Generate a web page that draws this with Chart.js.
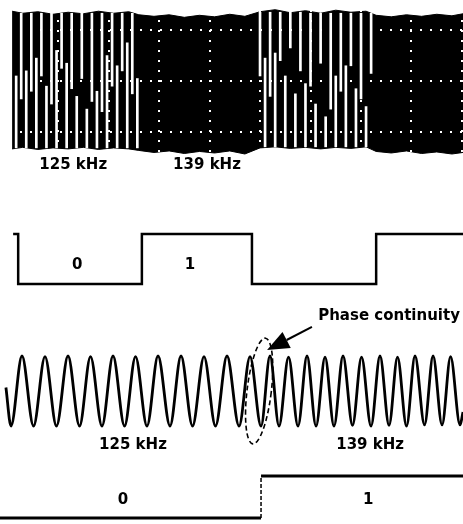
<!DOCTYPE html>
<html>
<head>
<meta charset="utf-8">
<title>FSK signals</title>
<script src="https://cdn.jsdelivr.net/npm/chart.js@4.4.1/dist/chart.umd.min.js"></script>
<style>
  html, body { margin: 0; padding: 0; background: #fff; }
  #wrap { position: relative; width: 463px; height: 524px; overflow: hidden; background: #fff; }
  #wrap canvas { position: absolute; left: 0; }
</style>
</head>
<body>
<div id="wrap">
  <canvas id="scope-graph" width="463" height="180" style="top:0px"></canvas>
  <canvas id="bits-graph" width="463" height="80" style="top:220px"></canvas>
  <canvas id="sine-graph" width="463" height="160" style="top:300px"></canvas>
  <canvas id="step-graph" width="463" height="64" style="top:460px"></canvas>
</div>
<script>
// Scope trace, x and y in screen divisions
var scopeEdgeX  = [0.09, 0.3, 0.6, 0.9, 1.2, 1.5, 1.8, 2.1, 2.4, 2.6, 2.9, 3.2, 3.5, 3.8, 4.1, 4.4, 4.7,
                   5.0, 5.3, 5.6, 5.9, 6.2, 6.5, 6.8, 7.1, 7.3, 7.6, 7.9, 8.2, 8.5, 8.8, 9.02];
var scopeUpper  = [1.37, 1.33, 1.36, 1.31, 1.35, 1.32, 1.37, 1.33, 1.36, 1.30, 1.27, 1.30, 1.25, 1.29, 1.26, 1.31, 1.27,
                   1.36, 1.40, 1.34, 1.38, 1.33, 1.39, 1.35, 1.37, 1.29, 1.26, 1.30, 1.27, 1.31, 1.28, 1.32];
var scopeLower  = [-1.33, -1.30, -1.34, -1.31, -1.33, -1.30, -1.34, -1.31, -1.33, -1.36, -1.40, -1.37, -1.42, -1.38, -1.41, -1.37, -1.43,
                   -1.31, -1.29, -1.32, -1.30, -1.33, -1.30, -1.32, -1.29, -1.38, -1.41, -1.37, -1.42, -1.39, -1.43, -1.40];
// white gaps that show through the 125 kHz bursts
var gapX  = [0.17, 0.27, 0.37, 0.47, 0.57, 0.67, 0.77, 0.87, 0.97, 1.07, 1.17, 1.27, 1.37, 1.47, 1.57, 1.67, 1.77,
             1.87, 1.97, 2.07, 2.17, 2.27, 2.37, 2.47, 2.57,
             5.0, 5.1, 5.2, 5.3, 5.4, 5.5, 5.6, 5.7, 5.8, 5.9, 6.0, 6.1, 6.2, 6.3, 6.4, 6.5, 6.6, 6.7, 6.8, 6.9, 7.0, 7.1, 7.2];
var gapLo = [-1.31, -0.35, -1.31, -0.20, -1.31, 0.10, -1.31, -0.45, -1.31, 0.25, -1.31, -0.15, -1.31, 0.05, -1.31, -0.40, -1.31,
             -0.60, -1.31, -0.10, -1.31, 0.20, -1.31, -0.25, -1.31,
             0.10, -1.29, -0.30, -1.29, 0.40, -1.29, 0.65, -1.29, 0.20, -1.29, -0.10, -1.29, 0.35, -1.29, -0.55, -1.29, -0.20, -1.29,
             0.30, -1.29, -0.35, -1.29, 0.15];
var gapHi = [0.10, 1.33, 0.20, 1.33, 0.45, 1.33, -0.10, 1.33, 0.60, 1.33, 0.35, 1.33, -0.30, 1.33, -0.55, 1.33, -0.20,
             1.33, 0.50, 1.33, 0.30, 1.33, 0.75, 1.33, 0.05,
             1.35, 0.45, 1.35, 0.55, 1.35, 0.10, 1.35, -0.25, 1.35, -0.05, 1.33, -0.45, 1.33, -0.70, 1.33, 0.10, 1.33, 0.30,
             1.33, -0.15, 1.33, -0.50, 1.33];
var scopeGridX = [0, 1, 2, 3, 4, 5, 6, 7, 8, 9];
var scopeGridY = [-1, 0, 1];

// Bit stream 0 1 0 1 (same time base as the scope)
var bitsX = [0.11, 0.21, 0.21, 2.66, 2.66, 4.84, 4.84, 7.30, 7.30, 9.02];
var bitsY = [1, 1, 0, 0, 1, 1, 0, 0, 1, 1];

// FSK carrier, time in microseconds, normalised amplitude
var sineT = [2.1, 3.9, 7.79, 11.87, 15.94, 20.01, 24.09, 28.16, 32.06, 36.13, 40.03, 44.1, 48.0, 52.07, 55.97,
             60.22, 64.12, 68.19, 72.26, 76.34, 80.41, 84.66, 88.56, 92.46, 95.64, 98.83, 102.2, 105.56, 108.75,
             111.94, 115.13, 118.31, 121.5, 124.87, 128.06, 131.42, 134.6, 137.8, 140.8, 144.0, 147.0, 150.37,
             153.4, 156.57, 159.6, 162.95, 164.0];
var sineV = [0.1, -1, 1, -1, 0.98, -1, 1, -1, 0.98, -1, 1, -1, 0.98, -1, 1,
             -1, 1, -1, 0.98, -1, 1, -1, 0.98, -1, 1, -1, 0.97, -1, 1,
             -1, 0.97, -1, 1, -0.98, 0.97, -1, 1, -0.98, 0.97, -1, 1, -0.97,
             1, -0.97, 0.98, -0.97, -0.6];

// Demodulated bit 0 -> 1
var stepX = [0, 92.46, 92.46, 164];
var stepY = [0, 0, 1, 1];

function toPoints(xs, ys) {
    var pts = [];
    for (var i = 0; i < xs.length; i++) {
        pts.push({x: xs[i], y: ys[i]});
    }
    return pts;
}

// text labels drawn at data coordinates
var signalLabels = {
    id: 'signalLabels',
    afterDraw: function(chart, args, opts) {
        var ctx = chart.ctx;
        var xs = chart.scales.x;
        var ys = chart.scales.y;
        ctx.save();
        ctx.font = 'bold 15px "DejaVu Sans"';
        ctx.fillStyle = '#000';
        ctx.textAlign = 'center';
        ctx.textBaseline = 'middle';
        (opts.items || []).forEach(function(it) {
            ctx.fillText(it.text, xs.getPixelForValue(it.x), ys.getPixelForValue(it.y));
        });
        ctx.restore();
    }
};
Chart.register(signalLabels);

// dashed ellipse + arrow around the frequency switch
var phaseMarker = {
    id: 'phaseMarker',
    afterDatasetsDraw: function(chart) {
        var ctx = chart.ctx;
        var xs = chart.scales.x;
        var ys = chart.scales.y;
        var cx = xs.getPixelForValue(91.8);
        var cy = ys.getPixelForValue(0);
        var rx = xs.getPixelForValue(91.8 + 4.3) - cx;
        var ry = cy - ys.getPixelForValue(1.52);
        ctx.save();
        ctx.strokeStyle = '#000';
        ctx.lineWidth = 1.6;
        ctx.setLineDash([5, 3]);
        ctx.beginPath();
        ctx.ellipse(cx, cy, rx, ry, 0.12, 0, Math.PI * 2);
        ctx.stroke();

        var x0 = xs.getPixelForValue(110.5), y0 = ys.getPixelForValue(1.83);
        var x1 = xs.getPixelForValue(94.6), y1 = ys.getPixelForValue(1.17);
        var ang = Math.atan2(y1 - y0, x1 - x0);
        var len = 22, half = 9;
        var bx = x1 - len * Math.cos(ang), by = y1 - len * Math.sin(ang);
        ctx.setLineDash([]);
        ctx.lineWidth = 2;
        ctx.beginPath();
        ctx.moveTo(x0, y0);
        ctx.lineTo(bx, by);
        ctx.stroke();
        ctx.fillStyle = '#000';
        ctx.beginPath();
        ctx.moveTo(x1, y1);
        ctx.lineTo(bx + half * Math.sin(ang), by - half * Math.cos(ang));
        ctx.lineTo(bx - half * Math.sin(ang), by + half * Math.cos(ang));
        ctx.closePath();
        ctx.fill();
        ctx.restore();
    }
};

var hiddenAxes = function(xmin, xmax, ymin, ymax) {
    return {
        x: {type: 'linear', display: false, min: xmin, max: xmax},
        y: {type: 'linear', display: false, min: ymin, max: ymax}
    };
};

function opts(scales, items) {
    return {
        responsive: false,
        animation: false,
        events: [],
        layout: {padding: 0},
        scales: scales,
        plugins: {legend: {display: false}, tooltip: {enabled: false}, signalLabels: {items: items}}
    };
}

// ---- scope picture
var scopeScales = {
    x: {
        type: 'linear', min: -0.15, max: 9.02, offset: false,
        ticks: {display: false},
        afterBuildTicks: function(axis) { axis.ticks = scopeGridX.map(function(v) { return {value: v}; }); },
        grid: {color: '#fff', lineWidth: 2, drawTicks: false, offset: false, z: 1},
        border: {display: false, dash: [2, 8]}
    },
    y: {
        type: 'linear', min: -1.94, max: 1.59,
        ticks: {display: false},
        afterBuildTicks: function(axis) { axis.ticks = scopeGridY.map(function(v) { return {value: v}; }); },
        grid: {color: '#fff', lineWidth: 2, drawTicks: false, z: 1},
        border: {display: false, dash: [2, 8]}
    }
};

new Chart(document.getElementById('scope-graph').getContext('2d'), {
    type: 'line',
    data: {
        datasets: [{
            type: 'bar',
            data: gapX.map(function(x, i) { return {x: x, y: [gapLo[i], gapHi[i]]}; }),
            backgroundColor: '#fff',
            borderWidth: 0,
            barThickness: 2,
            order: 0
        }, {
            data: toPoints(scopeEdgeX, scopeUpper),
            borderColor: '#000',
            borderWidth: 1,
            backgroundColor: '#000',
            pointRadius: 0,
            fill: '+1',
            order: 1
        }, {
            data: toPoints(scopeEdgeX, scopeLower),
            borderColor: '#000',
            borderWidth: 1,
            pointRadius: 0,
            fill: false,
            order: 1
        }]
    },
    options: opts(scopeScales, [
        {text: '125 kHz', x: 1.3, y: -1.65},
        {text: '139 kHz', x: 3.95, y: -1.65}
    ])
});

// ---- bit stream
new Chart(document.getElementById('bits-graph').getContext('2d'), {
    type: 'line',
    data: {
        datasets: [{
            data: toPoints(bitsX, bitsY),
            borderColor: '#000',
            borderWidth: 2.5,
            pointRadius: 0,
            fill: false
        }]
    },
    options: opts(hiddenAxes(-0.15, 9.02, -0.32, 1.28), [
        {text: '0', x: 1.38, y: 0.38},
        {text: '1', x: 3.61, y: 0.38}
    ])
});

// ---- FSK carrier
new Chart(document.getElementById('sine-graph').getContext('2d'), {
    type: 'line',
    data: {
        datasets: [{
            data: toPoints(sineT, sineV),
            borderColor: '#000',
            borderWidth: 2.8,
            pointRadius: 0,
            cubicInterpolationMode: 'monotone',
            fill: false
        }]
    },
    options: opts(hiddenAxes(0, 164, -1.971, 2.6), [
        {text: 'Phase continuity', x: 137.8, y: 2.14},
        {text: '125 kHz', x: 47.1, y: -1.54},
        {text: '139 kHz', x: 131.1, y: -1.54}
    ]),
    plugins: [phaseMarker]
});

// ---- demodulated output
new Chart(document.getElementById('step-graph').getContext('2d'), {
    type: 'line',
    data: {
        datasets: [{
            data: toPoints(stepX, stepY),
            borderColor: '#000',
            borderWidth: 3,
            pointRadius: 0,
            fill: false,
            segment: {
                borderDash: function(c) { return c.p0.parsed.x === c.p1.parsed.x ? [4, 2] : undefined; },
                borderWidth: function(c) { return c.p0.parsed.x === c.p1.parsed.x ? 1.5 : undefined; }
            }
        }]
    },
    options: opts(hiddenAxes(0, 164, -0.143, 1.381), [
        {text: '0', x: 43.6, y: 0.43},
        {text: '1', x: 130.4, y: 0.43}
    ])
});
</script>
</body>
</html>
